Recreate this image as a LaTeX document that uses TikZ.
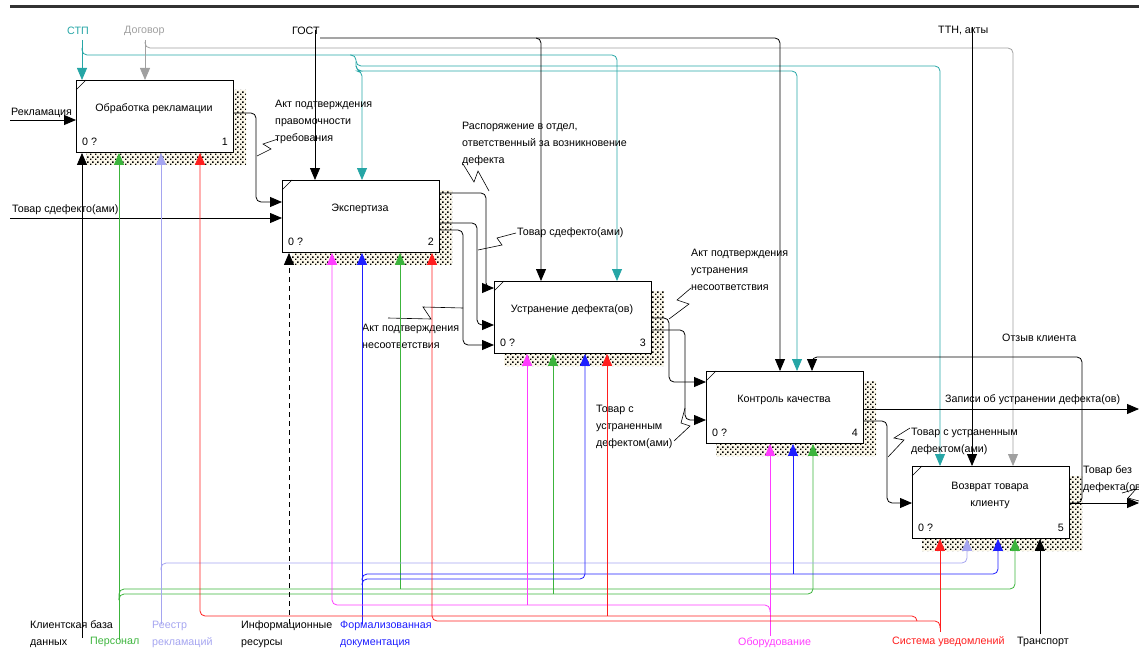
\documentclass[tikz,border=0pt]{standalone}
\usepackage{fontspec}
\setmainfont{Liberation Sans}
\usetikzlibrary{arrows.meta,patterns}
\definecolor{cteal}{RGB}{38,166,166}
\definecolor{cgray}{RGB}{160,160,160}
\definecolor{cgreen}{RGB}{60,180,60}
\definecolor{clav}{RGB}{165,165,240}
\definecolor{cred}{RGB}{255,30,30}
\definecolor{cmag}{RGB}{255,60,255}
\definecolor{cblue}{RGB}{30,30,255}
\definecolor{topline}{RGB}{50,50,50}
\definecolor{shadowbg}{RGB}{250,246,232}
\newcommand{\lblfont}{\fontsize{10.7}{17}\selectfont}
\pgfdeclarepatternformonly{idefdots}{\pgfqpoint{0pt}{0pt}}{\pgfqpoint{5pt}{5pt}}{\pgfqpoint{5pt}{5pt}}{%
  \pgfpathrectangle{\pgfqpoint{0pt}{0pt}}{\pgfqpoint{1.7pt}{1.7pt}}%
  \pgfpathrectangle{\pgfqpoint{2.5pt}{2.5pt}}{\pgfqpoint{1.7pt}{1.7pt}}%
  \pgfusepath{fill}}

\tikzset{
  func/.style={draw, line width=0.9pt, fill=white, minimum width=157pt, minimum height=72pt, inner sep=0pt, anchor=north west},
  shadowfill/.style={fill=shadowbg, postaction={pattern=idefdots, pattern color=black}},
  arr/.style={-{Triangle[length=12pt,width=10pt]}, line width=0.8pt, rounded corners=5pt},
  lbl/.style={anchor=west, align=left, inner sep=0pt, font=\lblfont},
  zig/.style={line width=0.6pt}
}

\begin{document}
\begin{tikzpicture}[x=1pt, y=-1pt]
  \clip (0,0) rectangle (1139,650);
  \draw[topline, line width=3pt] (10,7) -- (1139,7);

  % function blocks
  \foreach \x/\y/\n/\txt in {76/80/1/{Обработка рекламации}, 282/180/2/{Экспертиза}, 494/281/3/{Устранение дефекта(ов)}, 706/371/4/{Контроль качества}, 912/466/5/{Возврат товара\\клиенту}}{
    \fill[shadowfill] (\x+157,\y+10) -- (\x+170,\y+10) -- (\x+170,\y+85) -- (\x+10,\y+85) -- (\x+10,\y+72) -- (\x+157,\y+72) -- cycle;
    \node[func] (b\n) at (\x,\y) {};
    \draw[line width=0.6pt] (\x,\y+10) -- (\x+10,\y);
    \node[font=\lblfont, align=center] (t\n) at (\x+78,\y+29) {\txt};
    \node[lbl] at (\x+6,\y+62) {0 ?};
    \node[lbl, anchor=east] at (\x+152,\y+62) {\n};
  }

  % controls
  \node[lbl, text=cteal] (stpL) at (67,31) {СТП};
  \coordinate (stp) at (82,40);
  \draw[arr, cteal] (stp) -- (stp |- b1.north);
  \draw[arr, cteal] (82,48) -- (82,55) -- (617,55) -- (617,55 |- b3.north);
  \draw[arr, cteal] (350,55) -- (356,55) -- (356,66) -- (940,66) -- (940,66 |- b5.north);
  \draw[arr, cteal] (356,62) -- (356,71) -- (797,71) -- (797,71 |- b4.north);
  \draw[arr, cteal] (356,66) -- (356,71) -- (362,71) -- (362,71 |- b2.north);

  \node[lbl, text=cgray] (dogL) at (124,31) {Договор};
  \coordinate (dog) at (145,40);
  \draw[arr, cgray] (dog) -- (dog |- b1.north);
  \draw[arr, cgray] (145,42) -- (145,48) -- (1013,48) -- (1013,48 |- b5.north);

  \node[lbl] (gostL) at (292,31) {ГОСТ};
  \coordinate (gost) at (315,30);
  \draw[arr] (gost) -- (gost |- b2.north);
  \draw[arr] (320,38) -- (541,38) -- (541,38 |- b3.north);
  \draw[arr] (536,38) -- (780,38) -- (780,38 |- b4.north);

  \node[lbl] (ttnL) at (938,31) {ТТН, акты};
  \coordinate (ttn) at (972,27);
  \draw[arr] (ttn) -- (ttn |- b5.north);

  % inputs
  \node[lbl] (rekL) at (11,113) {Рекламация};
  \coordinate (rek) at (10,120);
  \draw[arr] (rek) -- (rek -| b1.west);
  \node[lbl] (tovL) at (12,210) {Товар сдефекто(ами)};
  \coordinate (tov) at (10,218);
  \draw[arr] (tov) -- (tov -| b2.west);

  % outputs between blocks
  \draw[arr] (b1.east |- 0,113) -- (256,113) -- (256,202) -- (b2.west |- 0,202);
  \node[lbl] (aktpL) at (275,122) {Акт подтверждения\\правомочности\\требования};
  \draw[zig] (257,156) -- (271,149) -- (263,144) -- (278,139);

  \draw[arr] (b2.east |- 0,193) -- (486,193) -- (486,288) -- (b3.west |- 0,288);
  \node[lbl] (raspL) at (462,144) {Распоряжение в отдел,\\ответственный за возникновение\\дефекта};
  \draw[zig] (463,164) -- (474,182) -- (478,171) -- (489,191);

  \draw[arr] (b2.east |- 0,223) -- (477,223) -- (477,325) -- (b3.west |- 0,325);
  \node[lbl] (tov2L) at (517,233) {Товар сдефекто(ами)};
  \draw[zig] (478,250) -- (502,245) -- (497,238) -- (516,233);

  \draw[arr] (b2.east |- 0,230) -- (463,230) -- (463,345) -- (b3.west |- 0,345);
  \node[lbl] (aktnL) at (362,336) {Акт подтверждения\\несоответствия};
  \draw[zig] (388,318) -- (431,319) -- (423,307) -- (463,308);

  \draw[arr] (b3.east |- 0,318) -- (669,318) -- (669,382) -- (b4.west |- 0,382);
  \node[lbl] (aktuL) at (691,270) {Акт подтверждения\\устранения\\несоответствия};
  \draw[zig] (669,319) -- (689,304) -- (677,300) -- (691,288);

  \draw[arr] (b3.east |- 0,330) -- (685,330) -- (685,420) -- (b4.west |- 0,420);
  \node[lbl] (tovuL) at (596,427) {Товар с\\устраненным\\дефектом(ами)};
  \draw[zig] (674,441) -- (690,426) -- (681,423) -- (685,408);

  \coordinate (zap) at (1139,409);
  \draw[arr] (b4.east |- 0,409) -- (zap);
  \node[lbl] (zapL) at (945,400) {Записи об устранении дефекта(ов)};

  \draw[arr] (b4.east |- 0,421) -- (887,421) -- (887,503) -- (b5.west |- 0,503);
  \node[lbl] (tovu2L) at (911,441) {Товар с устраненным\\дефектом(ами)};
  \draw[zig] (888,457) -- (904,440) -- (894,438) -- (910,428);

  \coordinate (tbd) at (1139,503);
  \draw[arr] (b5.east |- 0,503) -- (tbd);
  \node[lbl] (tbdL) at (1083,479) {Товар без\\дефекта(ов)};
  \draw[zig] (1122,493) -- (1136,489) -- (1128,498) -- (1139,501);

  \draw[arr] (b5.east |- 0,503) -- (1082,503) -- (1082,357) -- (812,357) -- (812,357 |- b4.north);
  \node[lbl] (otzL) at (1002,338) {Отзыв клиента};

  % mechanisms
  \node[lbl] (kbdL) at (30,634) {Клиентская база\\данных};
  \coordinate (kbd) at (82,638);
  \draw[arr] (kbd) -- (kbd |- b1.south);

  \node[lbl, text=cgreen] (persL) at (90,642) {Персонал};
  \coordinate (pers) at (119,640);
  \draw[arr, cgreen] (pers) -- (pers |- b1.south);
  \draw[arr, cgreen] (119,600) -- (119,589) -- (1015,589) -- (1015,589 |- b5.south);
  \draw[arr, cgreen] (400,589) -- (400,589 |- b2.south);
  \draw[arr, cgreen] (119,600) -- (119,594) -- (813,594) -- (813,594 |- b4.south);
  \draw[arr, cgreen] (553,594) -- (553,594 |- b3.south);

  \node[lbl, text=clav] (reeL) at (152,634) {Реестр\\рекламаций};
  \coordinate (ree) at (161,624);
  \draw[arr, clav] (ree) -- (ree |- b1.south);
  \draw[arr, clav] (161,570) -- (161,563) -- (967,563) -- (967,563 |- b5.south);

  \node[lbl] (infL) at (241,634) {Информационные\\ресурсы};
  \coordinate (inf) at (289,624);
  \draw[arr, dash pattern=on 5pt off 4pt] (inf) -- (inf |- b2.south);

  \node[lbl, text=cblue] (fdL) at (340,634) {Формализованная\\документация};
  \coordinate (fd) at (362,624);
  \draw[arr, cblue] (fd) -- (fd |- b2.south);
  \draw[arr, cblue] (362,580) -- (362,574) -- (998,574) -- (998,574 |- b5.south);
  \draw[arr, cblue] (793,574) -- (793,574 |- b4.south);
  \draw[arr, cblue] (362,585) -- (362,579) -- (585,579) -- (585,579 |- b3.south);

  \node[lbl, text=cmag] (oboL) at (738,643) {Оборудование};
  \coordinate (obo) at (770,636);
  \draw[arr, cmag] (obo) -- (obo |- b4.south);
  \draw[arr, cmag] (770,612) -- (770,605) -- (332,605) -- (332,605 |- b2.south);
  \draw[arr, cmag] (527,605) -- (527,605 |- b3.south);

  \node[lbl, text=cred] (sysL) at (892,642) {Система уведомлений};
  \coordinate (sys) at (940,632);
  \draw[arr, cred] (sys) -- (sys |- b5.south);
  \draw[arr, cred] (940,628) -- (940,621) -- (432,621) -- (432,621 |- b2.south);
  \draw[arr, cred] (917,621) -- (917,616) -- (200,616) -- (200,616 |- b1.south);
  \draw[arr, cred] (607,616) -- (607,616 |- b3.south);

  \node[lbl] (trL) at (1017,642) {Транспорт};
  \coordinate (tr) at (1040,634);
  \draw[arr] (tr) -- (tr |- b5.south);
\end{tikzpicture}
\end{document}
